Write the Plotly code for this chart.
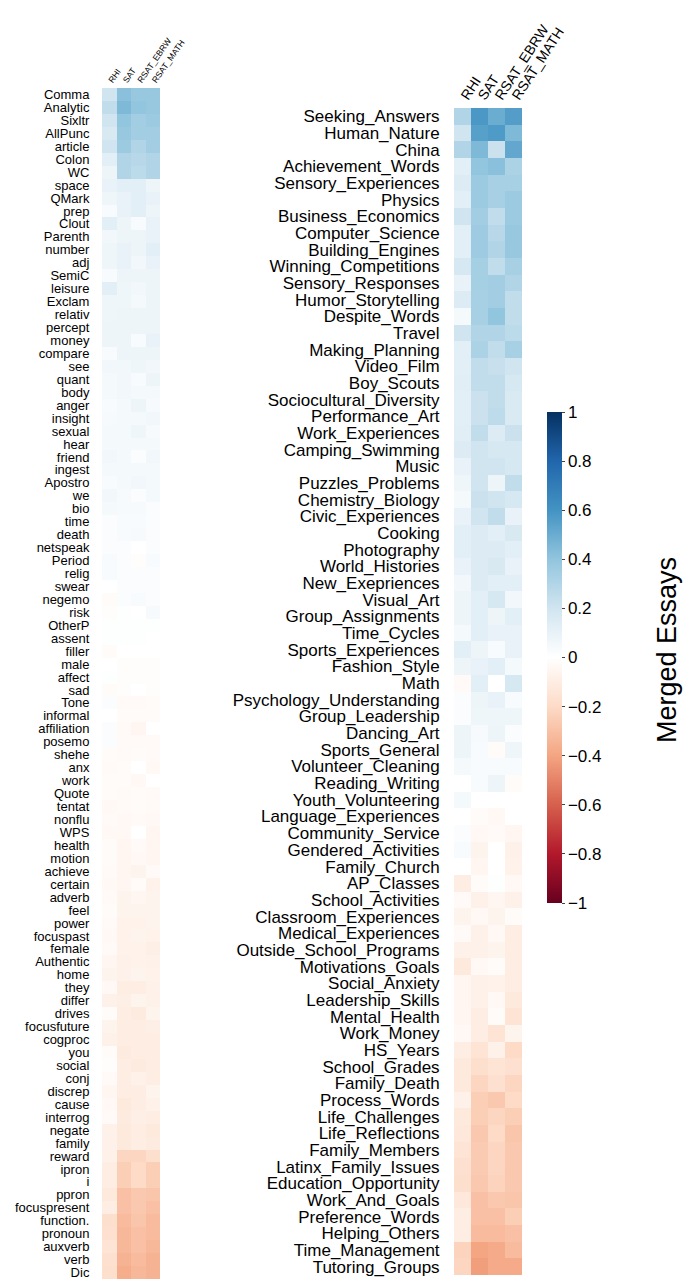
import plotly.graph_objects as go

# Outcome measures (columns of both heatmaps)
measures = ["RHI", "SAT", "RSAT_EBRW", "RSAT_MATH"]

# LIWC dictionary categories (left panel, top to bottom)
liwc_labels = [
    "Comma", "Analytic", "Sixltr", "AllPunc", "article", "Colon", "WC", "space",
    "QMark", "prep", "Clout", "Parenth", "number", "adj", "SemiC", "leisure",
    "Exclam", "relativ", "percept", "money", "compare", "see", "quant", "body",
    "anger", "insight", "sexual", "hear", "friend", "ingest", "Apostro", "we",
    "bio", "time", "death", "netspeak", "Period", "relig", "swear", "negemo",
    "risk", "OtherP", "assent", "filler", "male", "affect", "sad", "Tone",
    "informal", "affiliation", "posemo", "shehe", "anx", "work", "Quote", "tentat",
    "nonflu", "WPS", "health", "motion", "achieve", "certain", "adverb", "feel",
    "power", "focuspast", "female", "Authentic", "home", "they", "differ", "drives",
    "focusfuture", "cogproc", "you", "social", "conj", "discrep", "cause", "interrog",
    "negate", "family", "reward", "ipron", "i", "ppron", "focuspresent", "function.",
    "pronoun", "auxverb", "verb", "Dic",
]

liwc_rhi = [
    0.20, 0.25, 0.20, 0.17, 0.20, 0.12, 0.08, 0.10, 0.07, 0.03, 0.12, 0.06,
    0.07, 0.07, 0.03, 0.12, 0.07, 0.07, 0.08, 0.08, 0.03, 0.06, 0.05, 0.05,
    0.03, 0.04, 0.05, 0.05, 0.06, 0.05, 0.03, 0.06, 0.05, 0.02, 0.02, 0.02,
    0.03, 0.03, 0.00, -0.02, -0.01, 0.01, 0.01, -0.02, 0.00, 0.01, -0.02, 0.02,
    0.00, 0.02, 0.02, -0.02, -0.03, -0.02, -0.02, -0.04, -0.03, -0.04, -0.02, -0.02,
    -0.03, -0.04, -0.03, -0.02, -0.03, -0.04, -0.03, -0.05, -0.06, -0.04, -0.08, -0.02,
    -0.06, -0.08, -0.02, -0.01, -0.03, -0.05, -0.04, -0.03, -0.08, -0.08, -0.08, -0.10,
    -0.10, -0.12, -0.10, -0.18, -0.17, -0.15, -0.17, -0.18,
]
liwc_sat = [
    0.42, 0.45, 0.40, 0.38, 0.37, 0.30, 0.30, 0.12, 0.10, 0.10, 0.08, 0.08,
    0.10, 0.10, 0.08, 0.07, 0.07, 0.08, 0.08, 0.08, 0.08, 0.06, 0.06, 0.06,
    0.05, 0.05, 0.05, 0.05, 0.05, 0.05, 0.05, 0.04, 0.04, 0.03, 0.03, 0.02,
    0.02, 0.02, 0.02, 0.02, 0.01, 0.01, 0.01, 0.00, -0.01, -0.01, -0.01, -0.03,
    -0.02, -0.03, -0.03, -0.03, -0.02, -0.02, -0.03, -0.03, -0.04, -0.04, -0.05, -0.05,
    -0.05, -0.05, -0.06, -0.06, -0.07, -0.07, -0.07, -0.08, -0.08, -0.10, -0.09, -0.10,
    -0.10, -0.10, -0.11, -0.10, -0.10, -0.10, -0.12, -0.11, -0.12, -0.12, -0.22, -0.25,
    -0.25, -0.30, -0.30, -0.32, -0.33, -0.33, -0.35, -0.37,
]
liwc_ebrw = [
    0.38, 0.40, 0.35, 0.35, 0.30, 0.28, 0.27, 0.12, 0.12, 0.12, 0.03, 0.08,
    0.08, 0.06, 0.08, 0.06, 0.05, 0.08, 0.08, 0.03, 0.08, 0.07, 0.03, 0.05,
    0.08, 0.05, 0.07, 0.05, 0.02, 0.05, 0.06, 0.02, 0.04, 0.03, 0.04, 0.00,
    -0.01, 0.02, 0.02, 0.03, 0.00, 0.01, 0.01, 0.00, -0.01, -0.01, 0.00, -0.03,
    -0.02, -0.05, -0.03, -0.02, 0.00, -0.04, -0.02, -0.02, -0.03, 0.00, -0.03, -0.04,
    -0.06, -0.02, -0.05, -0.06, -0.07, -0.06, -0.07, -0.07, -0.06, -0.10, -0.06, -0.11,
    -0.10, -0.10, -0.10, -0.11, -0.08, -0.10, -0.10, -0.09, -0.10, -0.10, -0.22, -0.20,
    -0.20, -0.27, -0.27, -0.28, -0.30, -0.30, -0.32, -0.33,
]
liwc_math = [
    0.38, 0.38, 0.37, 0.35, 0.35, 0.30, 0.30, 0.08, 0.10, 0.08, 0.10, 0.10,
    0.12, 0.10, 0.08, 0.08, 0.08, 0.08, 0.08, 0.10, 0.08, 0.06, 0.08, 0.05,
    0.04, 0.06, 0.04, 0.05, 0.06, 0.05, 0.05, 0.05, 0.02, 0.02, 0.02, 0.02,
    0.03, 0.02, 0.02, 0.02, 0.04, 0.01, 0.00, 0.00, -0.01, -0.01, -0.01, -0.02,
    -0.02, 0.00, -0.03, -0.03, -0.04, 0.00, -0.03, -0.03, -0.04, -0.05, -0.05, -0.05,
    -0.03, -0.07, -0.06, -0.06, -0.06, -0.07, -0.09, -0.08, -0.07, -0.08, -0.08, -0.06,
    -0.09, -0.10, -0.10, -0.10, -0.10, -0.06, -0.08, -0.10, -0.12, -0.11, -0.18, -0.25,
    -0.25, -0.28, -0.30, -0.32, -0.32, -0.33, -0.35, -0.35,
]

# Essay topics (right panel, top to bottom)
topic_labels = [
    "Seeking_Answers", "Human_Nature", "China", "Achievement_Words",
    "Sensory_Experiences", "Physics", "Business_Economics", "Computer_Science",
    "Building_Engines", "Winning_Competitions", "Sensory_Responses",
    "Humor_Storytelling", "Despite_Words", "Travel", "Making_Planning",
    "Video_Film", "Boy_Scouts", "Sociocultural_Diversity", "Performance_Art",
    "Work_Experiences", "Camping_Swimming", "Music", "Puzzles_Problems",
    "Chemistry_Biology", "Civic_Experiences", "Cooking", "Photography",
    "World_Histories", "New_Exepriences", "Visual_Art", "Group_Assignments",
    "Time_Cycles", "Sports_Experiences", "Fashion_Style", "Math",
    "Psychology_Understanding", "Group_Leadership", "Dancing_Art",
    "Sports_General", "Volunteer_Cleaning", "Reading_Writing",
    "Youth_Volunteering", "Language_Experiences", "Community_Service",
    "Gendered_Activities", "Family_Church", "AP_Classes", "School_Activities",
    "Classroom_Experiences", "Medical_Experiences", "Outside_School_Programs",
    "Motivations_Goals", "Social_Anxiety", "Leadership_Skills", "Mental_Health",
    "Work_Money", "HS_Years", "School_Grades", "Family_Death", "Process_Words",
    "Life_Challenges", "Life_Reflections", "Family_Members",
    "Latinx_Family_Issues", "Education_Opportunity", "Work_And_Goals",
    "Preference_Words", "Helping_Others", "Time_Management", "Tutoring_Groups",
]

topic_rhi = [
    0.30, 0.20, 0.30, 0.12, 0.15, 0.12, 0.20, 0.12, 0.12, 0.18, 0.10, 0.15,
    0.05, 0.20, 0.12, 0.12, 0.13, 0.12, 0.12, 0.13, 0.15, 0.10, 0.07, 0.05,
    0.10, 0.12, 0.12, 0.10, 0.06, 0.08, 0.08, 0.05, 0.12, 0.08, -0.03, 0.02,
    0.02, 0.08, 0.08, 0.05, 0.00, 0.05, 0.00, 0.02, 0.03, 0.00, -0.10, -0.03,
    -0.06, -0.03, -0.08, -0.12, -0.05, -0.05, -0.05, -0.04, -0.10, -0.12, -0.12, -0.08,
    -0.12, -0.13, -0.15, -0.17, -0.18, -0.13, -0.10, -0.10, -0.23, -0.22,
]
topic_sat = [
    0.58, 0.55, 0.45, 0.40, 0.37, 0.37, 0.35, 0.36, 0.36, 0.34, 0.34, 0.33,
    0.33, 0.30, 0.32, 0.25, 0.25, 0.22, 0.22, 0.25, 0.20, 0.20, 0.20, 0.22,
    0.20, 0.15, 0.15, 0.15, 0.15, 0.12, 0.12, 0.12, 0.08, 0.10, 0.12, 0.08,
    0.07, 0.04, 0.03, 0.03, 0.03, 0.00, -0.02, -0.04, -0.06, -0.05, -0.02, -0.08,
    -0.04, -0.08, -0.08, -0.04, -0.08, -0.08, -0.10, -0.10, -0.15, -0.18, -0.22, -0.25,
    -0.25, -0.27, -0.26, -0.26, -0.27, -0.30, -0.30, -0.32, -0.40, -0.42,
]
topic_ebrw = [
    0.50, 0.57, 0.22, 0.42, 0.33, 0.33, 0.25, 0.28, 0.30, 0.25, 0.35, 0.35,
    0.40, 0.30, 0.25, 0.23, 0.25, 0.25, 0.26, 0.15, 0.18, 0.20, 0.08, 0.20,
    0.25, 0.12, 0.15, 0.17, 0.12, 0.18, 0.08, 0.10, 0.03, 0.12, 0.00, 0.10,
    0.07, 0.08, -0.02, 0.03, 0.08, 0.00, -0.04, -0.03, 0.00, 0.00, 0.01, -0.05,
    -0.06, -0.04, -0.06, -0.02, -0.07, -0.04, -0.02, -0.15, -0.08, -0.15, -0.17, -0.27,
    -0.22, -0.20, -0.22, -0.22, -0.23, -0.27, -0.30, -0.32, -0.38, -0.38,
]
topic_math = [
    0.56, 0.45, 0.52, 0.32, 0.33, 0.37, 0.37, 0.38, 0.38, 0.33, 0.30, 0.25,
    0.25, 0.27, 0.33, 0.20, 0.18, 0.16, 0.16, 0.22, 0.18, 0.18, 0.25, 0.18,
    0.10, 0.17, 0.12, 0.10, 0.12, 0.06, 0.12, 0.10, 0.10, 0.05, 0.18, 0.03,
    0.07, 0.02, 0.07, 0.03, -0.02, 0.00, 0.00, -0.05, -0.08, -0.07, -0.04, -0.08,
    -0.02, -0.10, -0.10, -0.10, -0.10, -0.12, -0.15, -0.06, -0.20, -0.17, -0.22, -0.20,
    -0.25, -0.28, -0.27, -0.27, -0.27, -0.28, -0.25, -0.30, -0.32, -0.38,
]

# Diverging red-white-blue scale (corrplot style RdBu)
rdbu = [
    "#67001F", "#B2182B", "#D6604D", "#F4A582", "#FDDBC7", "#FFFFFF",
    "#D1E5F0", "#92C5DE", "#4393C3", "#2166AC", "#053061",
]
colorscale = [[i / (len(rdbu) - 1), c] for i, c in enumerate(rdbu)]

W, H = 687, 1280
FONT = "Liberation Sans, Arial, sans-serif"


def rows_to_z(cols):
    return [list(r) for r in zip(*cols)]


fig = go.Figure()
fig.add_trace(go.Heatmap(
    z=rows_to_z([liwc_rhi, liwc_sat, liwc_ebrw, liwc_math]),
    x=measures, y=liwc_labels, coloraxis="coloraxis",
    xaxis="x", yaxis="y", hoverongaps=False,
))
fig.add_trace(go.Heatmap(
    z=rows_to_z([topic_rhi, topic_sat, topic_ebrw, topic_math]),
    x=measures, y=topic_labels, coloraxis="coloraxis",
    xaxis="x2", yaxis="y2", hoverongaps=False,
))

common_axis = dict(showgrid=False, zeroline=False, showline=False,
                   automargin=False, tickmode="array")

fig.update_layout(
    width=W, height=H,
    margin=dict(l=0, r=0, t=0, b=0, autoexpand=False),
    paper_bgcolor="white", plot_bgcolor="white",
    font=dict(family=FONT, color="black"),
    showlegend=False,
    xaxis=dict(domain=[102 / W, 160 / W], side="top", tickangle=-55,
               tickvals=measures, ticktext=measures,
               tickfont=dict(size=8.5), ticks="", anchor="y", **common_axis),
    yaxis=dict(domain=[1 - 1279 / H, 1 - 88 / H], autorange="reversed",
               tickvals=liwc_labels, ticktext=liwc_labels,
               tickfont=dict(size=13), ticks="outside", ticklen=9,
               tickcolor="rgba(0,0,0,0)", anchor="x", **common_axis),
    xaxis2=dict(domain=[454 / W, 522 / W], side="top", tickangle=-57,
                tickvals=measures, ticktext=measures,
                tickfont=dict(size=14), ticks="", anchor="y2", **common_axis),
    yaxis2=dict(domain=[1 - 1275 / H, 1 - 108 / H], autorange="reversed",
                tickvals=topic_labels, ticktext=topic_labels,
                tickfont=dict(size=17), ticks="outside", ticklen=10,
                tickcolor="rgba(0,0,0,0)", anchor="x2", **common_axis),
    coloraxis=dict(
        colorscale=colorscale, cmin=-1, cmax=1,
        colorbar=dict(
            x=547 / W, xanchor="left", xpad=0,
            y=1 - (412 + 903) / 2 / H, yanchor="middle", ypad=0,
            len=(903 - 412) / H, lenmode="fraction",
            thickness=15, outlinewidth=0,
            tickvals=[-1, -0.8, -0.6, -0.4, -0.2, 0, 0.2, 0.4, 0.6, 0.8, 1],
            ticktext=["\u22121", "\u22120.8", "\u22120.6", "\u22120.4", "\u22120.2",
                      "0", "0.2", "0.4", "0.6", "0.8", "1"],
            ticks="outside", ticklen=3, tickcolor="#444",
            tickfont=dict(size=17, family=FONT, color="black"),
        ),
    ),
    annotations=[dict(
        text="Merged Essays", textangle=-90, showarrow=False,
        xref="paper", yref="paper", x=667 / W, y=1 - 650 / H,
        xanchor="center", yanchor="middle",
        font=dict(size=27, family=FONT, color="black"),
    )],
)

fig.write_html("out.html")
